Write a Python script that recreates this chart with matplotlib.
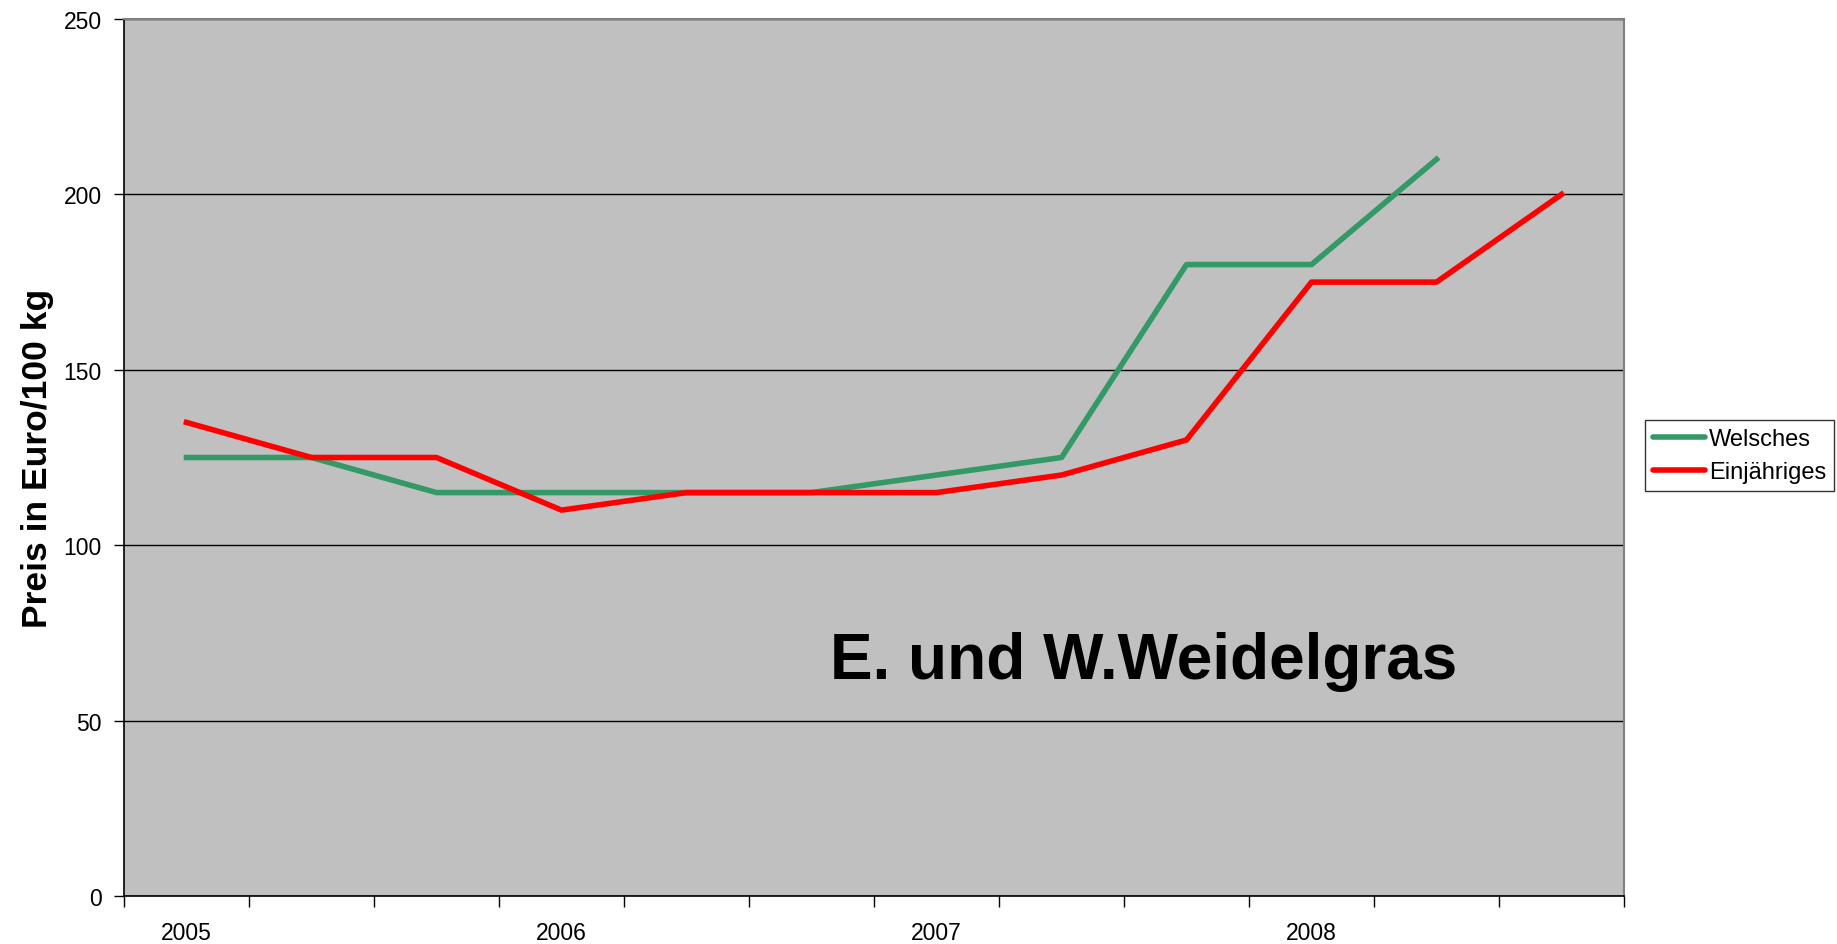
import numpy as np
import matplotlib

matplotlib.use("Agg")
import matplotlib.pyplot as plt

plt.rcParams["font.family"] = ["Liberation Sans", "DejaVu Sans"]

# 12 price points (category index), labels every third category
CATEGORIES = list(range(12))
YEAR_LABELS = ["2005", "2006", "2007", "2008"]
YEAR_POS = [0, 3, 6, 9]

WELSCHES = [125, 125, 115, 115, 115, 115, 120, 125, 180, 180, 210]
EINJAEHRIGES = [135, 125, 125, 110, 115, 115, 115, 120, 130, 175, 175, 200]

GREEN = "#339966"
RED = "#FF0000"
BG = "#C0C0C0"

W, H = 1837, 945
fig = plt.figure(figsize=(W / 100, H / 100), dpi=100)
left, right, top, bottom = 124, 1624, 20, 897
ax = fig.add_axes([left / W, 1 - bottom / H, (right - left) / W, (bottom - top) / H])
ax.set_facecolor(BG)

ax.plot(CATEGORIES[:len(WELSCHES)], WELSCHES, color=GREEN, lw=4, label="Welsches", zorder=3)
ax.plot(CATEGORIES[:len(EINJAEHRIGES)], EINJAEHRIGES, color=RED, lw=4, label="Einjähriges", zorder=4)

ax.set_xlim(-0.5, len(CATEGORIES) - 0.5)
ax.set_ylim(0, 250)
ax.set_yticks(np.arange(0, 251, 50))
ax.yaxis.grid(True, color="black", lw=1)
ax.set_axisbelow(True)

# boundaries carry tick marks, category centres carry the year labels
ax.set_xticks(np.arange(-0.5, len(CATEGORIES), 1.0))
ax.set_xticklabels([])
ax.set_xticks(YEAR_POS, minor=True)
ax.set_xticklabels(YEAR_LABELS, minor=True, fontsize=16.5)
ax.tick_params(axis="x", which="major", direction="out", length=8, width=1)
ax.tick_params(axis="x", which="minor", length=0, pad=18)
ax.tick_params(axis="y", direction="out", length=7, width=1, labelsize=16.5, pad=9)

for s in ["left", "bottom"]:
    ax.spines[s].set_color("black")
    ax.spines[s].set_linewidth(1.2)
for s in ["top", "right"]:
    ax.spines[s].set_color("#808080")
    ax.spines[s].set_linewidth(1.5)

ax.set_ylabel("Preis in Euro/100 kg", fontsize=25.5, fontweight="bold", va="center")
ax.yaxis.set_label_coords((38 - left) / (right - left), 0.5)

ax.text(0.68, 0.268, "E. und W.Weidelgras", transform=ax.transAxes,
        fontsize=46, fontweight="bold", ha="center", va="center")

leg = fig.legend(loc="upper left", bbox_to_anchor=(1645 / W, 1 - 421 / H),
                 borderaxespad=0, fontsize=17, frameon=True, fancybox=False,
                 edgecolor="black", handlelength=2.2, handletextpad=0.15,
                 borderpad=0.35, labelspacing=0.45)
leg.get_frame().set_linewidth(1)
for line in leg.get_lines():
    line.set_solid_capstyle("round")

fig.savefig("out.png", dpi=100)
